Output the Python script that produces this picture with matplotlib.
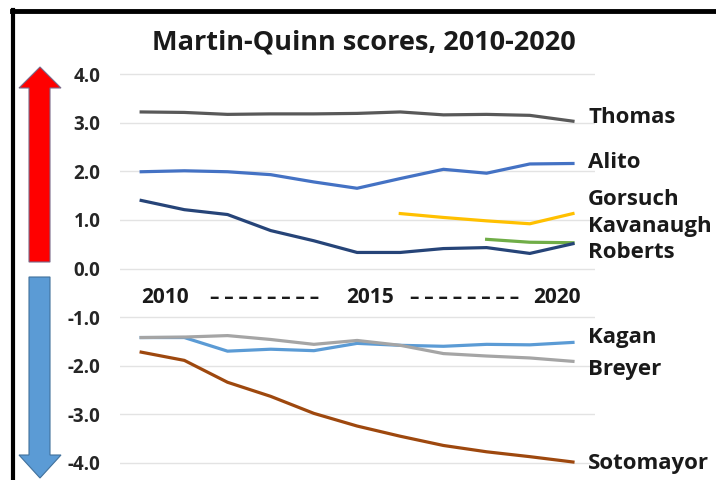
import matplotlib.pyplot as plt
from matplotlib.patches import Polygon

years = list(range(2010, 2021))

thomas = [3.22, 3.21, 3.17, 3.18, 3.18, 3.19, 3.22, 3.16, 3.17, 3.15, 3.03]
alito = [1.99, 2.01, 1.99, 1.93, 1.78, 1.65, 1.85, 2.04, 1.96, 2.15, 2.16]
roberts = [1.40, 1.21, 1.11, 0.78, 0.57, 0.33, 0.33, 0.41, 0.43, 0.31, 0.51]
gorsuch_years = [2016, 2017, 2018, 2019, 2020]
gorsuch = [1.13, 1.05, 0.98, 0.92, 1.13]
kavanaugh_years = [2018, 2019, 2020]
kavanaugh = [0.60, 0.54, 0.53]
kagan = [-1.42, -1.42, -1.70, -1.66, -1.69, -1.54, -1.58, -1.60, -1.56, -1.57, -1.52]
breyer = [-1.42, -1.41, -1.38, -1.46, -1.56, -1.48, -1.58, -1.75, -1.80, -1.84, -1.91]
sotomayor = [-1.72, -1.89, -2.34, -2.63, -2.98, -3.24, -3.45, -3.64, -3.77, -3.87, -3.98]

names = ['Thomas', 'Alito', 'Gorsuch', 'Kavanaugh', 'Roberts', 'Kagan', 'Breyer', 'Sotomayor']
label_y = [3.1, 2.18, 1.42, 0.86, 0.32, -1.42, -2.07, -4.02]

font = 'Open Sans'
plt.rcParams['font.family'] = [font, 'DejaVu Sans']

fig = plt.figure(figsize=(7.16, 4.8), dpi=100)

# background layer in pixel coordinates for frame and arrows
bg = fig.add_axes([0, 0, 1, 1], zorder=0)
bg.set_xlim(0, 716)
bg.set_ylim(480, 0)
bg.axis('off')
bg.plot([13, 13], [10, 480], color='black', lw=3)
bg.plot([12, 716], [10.5, 10.5], color='black', lw=3.5)
up = [(29, 262), (29, 88), (19, 88), (40, 67), (61, 88), (50, 88), (50, 262)]
down = [(29, 277), (29, 455), (19, 455), (40, 478), (61, 455), (50, 455), (50, 277)]
bg.add_patch(Polygon(up, closed=True, facecolor='#FF0000', edgecolor='#7a6a8a', lw=0.8))
bg.add_patch(Polygon(down, closed=True, facecolor='#5B9BD5', edgecolor='#41719C', lw=0.8))

ax = fig.add_axes([120 / 716, 1 - 472.7 / 480, 475 / 716, 408.4 / 480], zorder=1)
ax.patch.set_alpha(0)

lw = 2.3
ax.plot(years, thomas, color='#595959', lw=lw)
ax.plot(years, alito, color='#4472C4', lw=lw)
ax.plot(gorsuch_years, gorsuch, color='#FFC000', lw=lw)
ax.plot(kavanaugh_years, kavanaugh, color='#70AD47', lw=lw)
ax.plot(years, roberts, color='#264478', lw=lw)
ax.plot(years, kagan, color='#5B9BD5', lw=lw)
ax.plot(years, breyer, color='#A5A5A5', lw=lw)
ax.plot(years, sotomayor, color='#9E480E', lw=lw)

ax.set_xlim(2009.51, 2020.51)
ax.set_ylim(-4.2, 4.2)
ax.set_yticks([4, 3, 2, 1, 0, -1, -2, -3, -4])
ax.set_yticklabels(['4.0', '3.0', '2.0', '1.0', '0.0', '-1.0', '-2.0', '-3.0', '-4.0'],
                   fontsize=13.5, fontweight='bold', color='#262626')
ax.set_xticks([])
ax.tick_params(axis='y', length=0, pad=14)
ax.grid(axis='y', color='#E3E3E3', lw=1)
for s in ax.spines.values():
    s.set_visible(False)

for n, yv in zip(names, label_y):
    ax.text(2020.35, yv, n, fontsize=16, fontweight='bold', color='#1a1a1a',
            va='center', ha='left', clip_on=False)

# year "axis" written inside the plot
kw = dict(fontsize=15, fontweight='bold', color='#1a1a1a', va='center')
ax.text(2010, -0.6, '2010', ha='left', **kw)
ax.text(2015.3, -0.6, '2015', ha='center', **kw)
ax.text(2020.18, -0.6, '2020', ha='right', **kw)
dashes = ' '.join(['\u2013'] * 8)
ax.text(2012.85, -0.6, dashes, ha='center', fontsize=13.5, fontweight='bold', color='#1a1a1a', va='center')
ax.text(2017.5, -0.6, dashes, ha='center', fontsize=13.5, fontweight='bold', color='#1a1a1a', va='center')

fig.text(364 / 716, 1 - 42 / 480, 'Martin-Quinn scores, 2010-2020', fontsize=19.5,
         fontweight='bold', color='#1a1a1a', ha='center', va='center')

fig.savefig('out.png', dpi=100)
